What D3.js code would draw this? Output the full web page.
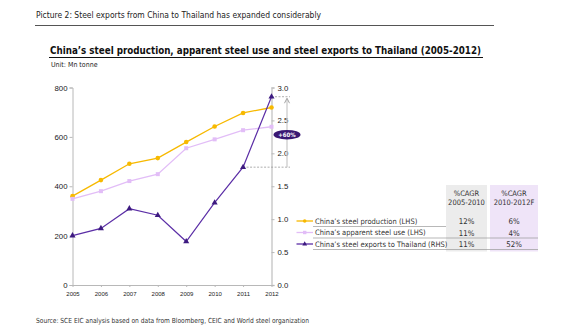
<!DOCTYPE html>
<html>
<head>
<meta charset="utf-8">
<script src="https://cdn.jsdelivr.net/npm/d3@7"></script>
<style>
	body { margin: 0; background: #fff; }
	svg { display: block; font-family: "DejaVu Sans Condensed", "Liberation Sans", sans-serif; }
</style>
</head>
<body>
<svg id="graphic" width="580" height="334"></svg>
<script>
var years = ["2005", "2006", "2007", "2008", "2009", "2010", "2011", "2012"];
var production = [360, 425, 491, 514, 579, 642, 697, 719];   // LHS
var apparentUse = [349, 380, 421, 449, 554, 590, 627, 641];  // LHS
var exportsThai = [0.75, 0.86, 1.16, 1.06, 0.66, 1.25, 1.79, 2.86]; // RHS
var leftTicks = [0, 200, 400, 600, 800];
var rightTicks = [0, 0.5, 1.0, 1.5, 2.0, 2.5, 3.0];

var seriesNames = ["China’s steel production (LHS)", "China’s apparent steel use (LHS)", "China’s steel exports to Thailand (RHS)"];
var cagrHeaders = [["%CAGR", "2005-2010"], ["%CAGR", "2010-2012F"]];
var cagr0510 = ["12%", "11%", "11%"];
var cagr1012 = ["6%", "4%", "52%"];
var growthLabel = "+60%";

var COL_PROD = "#f7b900";
var COL_USE = "#e2bdf7";
var COL_EXP = "#5b2ea6";

var svg = d3.select("svg");

// header texts (textLength keeps widths like the original's narrower face)
svg.append("text").attr("x", 36).attr("y", 18).attr("font-size", 9).attr("fill", "#222")
	.attr("textLength", 285).attr("lengthAdjust", "spacingAndGlyphs")
	.text("Picture 2: Steel exports from China to Thailand has expanded considerably");
svg.append("line").attr("x1", 35).attr("x2", 494).attr("y1", 25.5).attr("y2", 25.5)
	.attr("stroke", "#555").attr("stroke-width", 1);

svg.append("text").attr("x", 50).attr("y", 54).attr("font-size", 10.5).attr("font-weight", "bold").attr("fill", "#111")
	.attr("textLength", 431).attr("lengthAdjust", "spacingAndGlyphs")
	.text("China’s steel production, apparent steel use and steel exports to Thailand (2005-2012)");
svg.append("line").attr("x1", 49).attr("x2", 483).attr("y1", 57.5).attr("y2", 57.5)
	.attr("stroke", "#111").attr("stroke-width", 1);
svg.append("text").attr("x", 51).attr("y", 67).attr("font-size", 7).attr("fill", "#222")
	.text("Unit: Mn tonne");

svg.append("text").attr("x", 36).attr("y", 323).attr("font-size", 7).attr("fill", "#333")
	.attr("textLength", 273).attr("lengthAdjust", "spacingAndGlyphs")
	.text("Source: SCE EIC analysis based on data from Bloomberg, CEIC and World steel organization");

// scales
var x = d3.scalePoint().domain(years).range([72.5, 271.5]);
var yL = d3.scaleLinear().domain([0, 800]).range([285, 87.5]);
var yR = d3.scaleLinear().domain([0, 3]).range([285, 87.5]);

// axes
var gl = svg.append("g").attr("transform", "translate(72.5,0)")
	.call(d3.axisLeft(yL).tickValues(leftTicks).tickSize(3).tickPadding(2));
var gr = svg.append("g").attr("transform", "translate(271.5,0)")
	.call(d3.axisRight(yR).tickValues(rightTicks).tickSize(3).tickPadding(3).tickFormat(d3.format(".1f")));
var gb = svg.append("g").attr("transform", "translate(0,285)")
	.call(d3.axisBottom(x).tickSize(2).tickPadding(5).tickSizeOuter(0));

[gl, gr, gb].forEach(function(g) {
	g.select(".domain").attr("stroke", "#b8b8b8");
	g.selectAll(".tick line").attr("stroke", "#b8b8b8");
	g.selectAll("text").attr("fill", "#222").attr("font-family", null);
});
gl.selectAll("text").attr("font-size", 7.8);
gr.selectAll("text").attr("font-size", 7.8);
gr.select(".domain").attr("stroke", "#cfcfcf").attr("stroke-width", 1.6);
gb.selectAll("text").attr("font-size", 6);

// annotation dashes and arrow
var xEnd = 290;
svg.append("line").attr("x1", x("2012")).attr("x2", xEnd)
	.attr("y1", yR(exportsThai[7])).attr("y2", yR(exportsThai[7]))
	.attr("stroke", "#999").attr("stroke-width", 0.8).attr("stroke-dasharray", "2,1.5");
svg.append("line").attr("x1", x("2011")).attr("x2", xEnd)
	.attr("y1", yR(exportsThai[6])).attr("y2", yR(exportsThai[6]))
	.attr("stroke", "#999").attr("stroke-width", 0.8).attr("stroke-dasharray", "2,1.5");

var ax = 287;
var aTop = yR(exportsThai[7]) + 1.5;
var aBot = yR(exportsThai[6]);
svg.append("line").attr("x1", ax).attr("x2", ax).attr("y1", aTop + 1).attr("y2", aBot)
	.attr("stroke", "#c8c8c8").attr("stroke-width", 1.2);
svg.append("path")
	.attr("d", "M" + (ax - 2.5) + "," + (aTop + 5) + "L" + ax + "," + aTop + "L" + (ax + 2.5) + "," + (aTop + 5))
	.attr("fill", "none").attr("stroke", "#999").attr("stroke-width", 0.9);

// lines
function drawSeries(vals, scale, color, width) {
	var line = d3.line()
		.x(function(d, i) { return x(years[i]); })
		.y(function(d) { return scale(d); });
	svg.append("path").datum(vals).attr("d", line)
		.attr("fill", "none").attr("stroke", color).attr("stroke-width", width);
}
drawSeries(production, yL, COL_PROD, 1.3);
drawSeries(apparentUse, yL, COL_USE, 1.3);
drawSeries(exportsThai, yR, COL_EXP, 1.2);

// markers
svg.append("g").selectAll("circle").data(production).enter().append("circle")
	.attr("cx", function(d, i) { return x(years[i]); })
	.attr("cy", function(d) { return yL(d); })
	.attr("r", 2.3).attr("fill", COL_PROD);

svg.append("g").selectAll("rect").data(apparentUse).enter().append("rect")
	.attr("x", function(d, i) { return x(years[i]) - 2; })
	.attr("y", function(d) { return yL(d) - 2; })
	.attr("width", 4).attr("height", 4).attr("fill", COL_USE);

var tri = d3.symbol().type(d3.symbolTriangle).size(16);
svg.append("g").selectAll("path").data(exportsThai).enter().append("path")
	.attr("d", tri)
	.attr("transform", function(d, i) { return "translate(" + x(years[i]) + "," + yR(d) + ")"; })
	.attr("fill", "#3d1a80");

// +60% badge
var by = (aTop + aBot) / 2 + 2;
svg.append("ellipse").attr("cx", ax).attr("cy", by).attr("rx", 13.5).attr("ry", 4.8).attr("fill", "#3a1873");
svg.append("text").attr("x", ax).attr("y", by + 2).attr("text-anchor", "middle")
	.attr("font-size", 6).attr("font-weight", "bold").attr("fill", "#fff").text(growthLabel);

// CAGR table background columns
var colX = [446, 490];
var colW = [41, 48];
var colFill = ["#ececec", "#efe4f8"];
for (var c = 0; c < 2; c++) {
	svg.append("rect").attr("x", colX[c]).attr("y", 185).attr("width", colW[c]).attr("height", 66.5)
		.attr("fill", colFill[c]);
	for (var h = 0; h < 2; h++) {
		svg.append("text").attr("x", colX[c] + colW[c] / 2).attr("y", 195.5 + h * 9.5)
			.attr("text-anchor", "middle").attr("font-size", 7.5).attr("fill", "#333")
			.text(cagrHeaders[c][h]);
	}
}

// legend rows
var rowY = [221, 232.5, 244];
var legColors = [COL_PROD, COL_USE, COL_EXP];
var legMarkFill = [COL_PROD, COL_USE, "#3d1a80"];
for (var r = 0; r < 3; r++) {
	var cy = rowY[r];
	svg.append("line").attr("x1", 296.5).attr("x2", 313).attr("y1", cy).attr("y2", cy)
		.attr("stroke", legColors[r]).attr("stroke-width", 1.3);
	if (r == 0) {
		svg.append("circle").attr("cx", 304.7).attr("cy", cy).attr("r", 1.8).attr("fill", legMarkFill[r]);
	} else if (r == 1) {
		svg.append("rect").attr("x", 303).attr("y", cy - 1.7).attr("width", 3.4).attr("height", 3.4).attr("fill", legMarkFill[r]);
	} else {
		svg.append("path").attr("d", d3.symbol().type(d3.symbolTriangle).size(10))
			.attr("transform", "translate(304.7," + cy + ")").attr("fill", legMarkFill[r]);
	}
	svg.append("text").attr("x", 315).attr("y", cy + 2.7).attr("font-size", 7.5).attr("fill", "#333")
		.text(seriesNames[r]);
	svg.append("text").attr("x", colX[0] + colW[0] / 2).attr("y", cy + 3).attr("text-anchor", "middle")
		.attr("font-size", 7.8).attr("fill", "#333").text(cagr0510[r]);
	svg.append("text").attr("x", colX[1] + colW[1] / 2).attr("y", cy + 3).attr("text-anchor", "middle")
		.attr("font-size", 7.8).attr("fill", "#333").text(cagr1012[r]);
	// first separator stops at the table columns
	svg.append("line").attr("x1", 313).attr("x2", r == 0 ? 446 : 538).attr("y1", cy + 5.5).attr("y2", cy + 5.5)
		.attr("stroke", "#9a9a9a").attr("stroke-width", 0.7);
}
</script>
</body>
</html>
